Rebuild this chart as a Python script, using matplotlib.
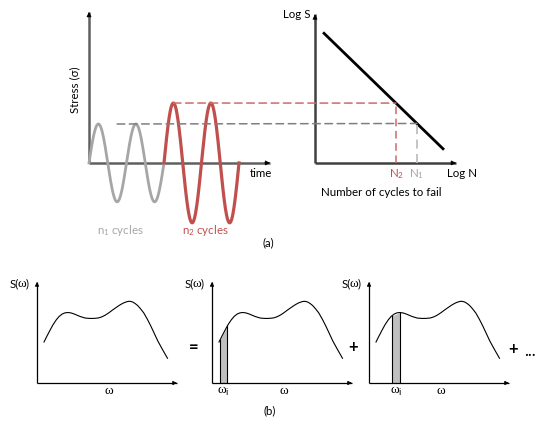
import numpy as np
import matplotlib
matplotlib.use('Agg')
import matplotlib.pyplot as plt
from matplotlib.patches import ConnectionPatch

W, H = 537, 421
FONT = ['Lato', 'DejaVu Sans']
plt.rcParams['font.family'] = FONT
plt.rcParams['mathtext.fontset'] = 'custom'
plt.rcParams['mathtext.rm'] = 'Lato'
plt.rcParams['mathtext.it'] = 'Lato:italic'

RED = '#c0504d'
GREY = '#a6a6a6'
FS = 8.3
SERIF = ['Liberation Serif', 'DejaVu Serif']

# (a) loading history: stress amplitudes (red amplitude = 1) and cycles per block
grey_amp, red_amp = 0.65, 1.0
grey_cycles, red_cycles = 2, 2
time_end = 4.83          # end of time axis, in cycles
stress_top = 2.52        # top of stress axis
grey_dash_start = 0.75   # where the grey dashed level starts

# S-N curve (log N scaled 0..1, log S in stress units)
sn_logN = [0.057, 0.915]
sn_logS = [2.18, 0.22]
N2, N1 = 0.574, 0.723

# (b) spectrum S(w)
omega = [0.050, 0.072, 0.094, 0.115, 0.137, 0.158, 0.180, 0.201, 0.223, 0.245,
         0.266, 0.309, 0.345, 0.381, 0.410, 0.439, 0.465, 0.489, 0.515, 0.540,
         0.570, 0.597, 0.622, 0.647, 0.665, 0.683, 0.700, 0.719, 0.740, 0.763,
         0.788, 0.813, 0.838, 0.863, 0.897, 0.932]
spec = [0.406, 0.467, 0.525, 0.578, 0.624, 0.659, 0.683, 0.695, 0.698, 0.693,
        0.683, 0.658, 0.643, 0.639, 0.640, 0.644, 0.656, 0.673, 0.697, 0.723,
        0.752, 0.777, 0.795, 0.807, 0.809, 0.802, 0.788, 0.767, 0.734, 0.693,
        0.632, 0.564, 0.490, 0.416, 0.330, 0.245]
strips = [None, (0.058, 0.110), (0.163, 0.221)]


def box(x0, y0, x1, y1):
    return [x0 / W, 1 - y1 / H, (x1 - x0) / W, (y1 - y0) / H]


def arrow_axis(ax, x0, y0, x1, y1, color, lw, head='k', ms=7):
    ax.plot([x0, x1], [y0, y1], color=color, lw=lw, solid_capstyle='butt', clip_on=False)
    ax.annotate('', xy=(x1, y1), xytext=(x0 + (x1 - x0) * 0.97, y0 + (y1 - y0) * 0.97),
                arrowprops=dict(arrowstyle='-|>', color=head, lw=0.6, mutation_scale=ms,
                                shrinkA=0, shrinkB=0), annotation_clip=False)


def bare(ax, xlim, ylim):
    ax.set_xlim(*xlim)
    ax.set_ylim(*ylim)
    ax.axis('off')


fig = plt.figure(figsize=(W / 100, H / 100), dpi=100)

# ---- stress vs time ----
ax1 = fig.add_axes(box(89, 12, 275, 230))
bare(ax1, (0, 4.96), (-1.12, stress_top))
arrow_axis(ax1, 0, 0, 0, stress_top, '#606060', 1.8)
arrow_axis(ax1, 0, 0, time_end, 0, '#606060', 1.8)
t1 = np.linspace(0, grey_cycles, 200)
t2 = np.linspace(grey_cycles, grey_cycles + red_cycles, 200)
ax1.plot(t1, grey_amp * np.sin(2 * np.pi * t1), color=GREY, lw=2.0, clip_on=False)
ax1.plot(t2, red_amp * np.sin(2 * np.pi * t2), color=RED, lw=2.3, clip_on=False)
ax1.text(-0.37, 1.22, 'Stress (σ)', rotation=90, ha='center', va='center', fontsize=FS)
ax1.text(4.59, -0.18, 'time', ha='center', va='center', fontsize=FS)
ax1.text(0.83, -1.13, 'n$_1$ cycles', ha='center', va='center', fontsize=FS, color=GREY)
ax1.text(3.09, -1.13, 'n$_2$ cycles', ha='center', va='center', fontsize=FS, color=RED)

# ---- S-N curve ----
ax2 = fig.add_axes(box(315, 12, 456, 230))
bare(ax2, (0, 1), (-1.12, stress_top))
arrow_axis(ax2, 0, 0, 0, 2.48, '#404040', 1.8)
arrow_axis(ax2, 0, 0, 1, 0, '#404040', 1.8)
ax2.plot(sn_logN, sn_logS, color='k', lw=2.0, solid_capstyle='butt')
slope = (sn_logS[1] - sn_logS[0]) / (sn_logN[1] - sn_logN[0])
S2 = sn_logS[0] + slope * (N2 - sn_logN[0])
S1 = sn_logS[0] + slope * (N1 - sn_logN[0])
ax2.plot([N2, N2], [0, S2], color='#d06a67', lw=1.1, ls=(0, (5, 3)))
ax2.plot([N1, N1], [0, S1], color='#bfbfbf', lw=1.3, ls=(0, (5, 3)))
ax2.text(-0.128, 2.48, 'Log S', ha='center', va='center', fontsize=FS)
ax2.text(1.043, -0.18, 'Log N', ha='center', va='center', fontsize=FS)
ax2.text(N2 + 0.006, -0.18, 'N$_2$', ha='center', va='center', fontsize=FS, color=RED)
ax2.text(N1 - 0.001, -0.18, 'N$_1$', ha='center', va='center', fontsize=FS, color=GREY)
ax2.text(0.468, -0.5, 'Number of cycles to fail', ha='center', va='center', fontsize=FS)

red_peak_t = grey_cycles + 0.25
for (xa, ya, xb, yb, c) in [(red_peak_t, red_amp, N2, S2, '#d06a67'),
                            (grey_dash_start, grey_amp, N1, S1, '#7f7f7f')]:
    con = ConnectionPatch(xyA=(xa, ya), coordsA='data', axesA=ax1,
                          xyB=(xb, yb), coordsB='data', axesB=ax2,
                          color=c, lw=1.1, linestyle=(0, (5, 3)))
    fig.add_artist(con)

fig.text(268 / W, 1 - 243 / H, '(a)', ha='center', va='center', fontsize=FS)

# ---- spectrum panels ----
for x0, strip in zip([37, 212, 369], strips):
    ax = fig.add_axes(box(x0, 282, x0 + 140, 383))
    bare(ax, (0, 1), (0, 1))
    arrow_axis(ax, 0, 0, 0, 1, 'k', 0.9, ms=6)
    arrow_axis(ax, 0, 0, 1, 0, 'k', 0.9, ms=6)
    ax.plot(omega, spec, color='k', lw=0.8)
    ax.text(-0.108, 0.98, 'S(', ha='right', va='center', fontsize=FS,
            transform=ax.transData + matplotlib.transforms.ScaledTranslation(-3.5 / 100, 0, fig.dpi_scale_trans))
    ax.text(-0.108, 0.985, 'ω', ha='center', va='center', fontsize=9.5, family=SERIF)
    ax.text(-0.108, 0.98, ')', ha='left', va='center', fontsize=FS,
            transform=ax.transData + matplotlib.transforms.ScaledTranslation(3.5 / 100, 0, fig.dpi_scale_trans))
    ax.text(0.51, -0.08, 'ω', ha='center', va='center', fontsize=9.5, family=SERIF)
    if strip is not None:
        sx = np.array(strip)
        sy = np.interp(sx, omega, spec)
        ax.fill_between(sx, 0, sy, color='#bfbfbf', lw=0)
        for xi, yi in zip(sx, sy):
            ax.plot([xi, xi], [0, yi], color='k', lw=0.8)
        ax.text(sx.mean(), -0.08, 'ω$_\\mathrm{i}$', ha='center', va='center', fontsize=9.5,
                family=SERIF)

fig.text(194 / W, 1 - 347 / H, '=', ha='center', va='center', fontsize=12, fontweight='bold')
fig.text(353 / W, 1 - 347 / H, '+', ha='center', va='center', fontsize=12, fontweight='bold')
fig.text(513 / W, 1 - 349 / H, '+', ha='center', va='center', fontsize=12, fontweight='bold')
fig.text(530 / W, 1 - 351 / H, '...', ha='center', va='center', fontsize=12)
fig.text(270 / W, 1 - 411 / H, '(b)', ha='center', va='center', fontsize=FS)

fig.savefig('out.png', dpi=100)
